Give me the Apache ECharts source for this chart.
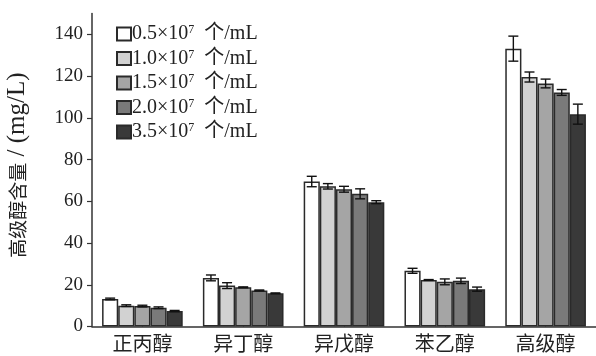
<!DOCTYPE html>
<html><head><meta charset="utf-8">
<script src="https://cdn.jsdelivr.net/npm/echarts@6/dist/echarts.min.js"></script>
<style>html,body{margin:0;padding:0;background:#fff}#c{width:596px;height:356px}</style>
</head><body><div id="c"></div>
<script>
const categories = ['正丙醇','异丁醇','异戊醇','苯乙醇','高级醇'];
const concentrations = ['0.5','1.0','1.5','2.0','3.5'];
const s1 = [13.2, 23.3, 69.5, 26.7, 133.2];
const s2 = [10.0, 19.6, 67.2, 22.3, 119.6];
const s3 = [9.8, 18.8, 65.8, 21.4, 116.5];
const s4 = [9.0, 17.3, 63.6, 21.9, 112.2];
const s5 = [7.4, 15.9, 59.6, 17.9, 101.8];
const e1 = [0.4, 1.4, 2.5, 1.2, 6.0];
const e2 = [0.4, 1.4, 1.3, 0.2, 2.4];
const e3 = [0.4, 0.2, 1.4, 1.4, 2.1];
const e4 = [0.4, 0.2, 2.4, 1.3, 1.4];
const e5 = [0.3, 0.2, 0.7, 1.0, 4.8];
const yTicks = [0, 20, 40, 60, 80, 100, 120, 140];
const colors = ['#ffffff', '#d2d2d2', '#a5a5a5', '#7a7a7a', '#393939'];

const values = [s1, s2, s3, s4, s5];
const errors = [e1, e2, e3, e4, e5];
const names = concentrations.map(c => c + '×10^7 个/mL');
const serif = "'Liberation Serif','Noto Sans CJK SC',serif";

const series = [];
values.forEach((vals, i) => {
  series.push({
    type: 'bar', name: names[i], data: vals,
    barGap: '0%', barCategoryGap: '20%',
    itemStyle: { color: colors[i], borderColor: '#2a2a2a', borderWidth: 1.5 },
    z: 2
  });
});
values.forEach((vals, i) => {
  series.push({
    type: 'custom', name: 'err' + i,
    data: vals.map((v, k) => [k, v, errors[i][k]]),
    encode: { x: 0, y: 1 },
    z: 5, silent: true,
    renderItem: function (params, api) {
      const ci = api.value(0), v = api.value(1), e = api.value(2);
      const catW = api.size([1, 0])[0];
      const bw = catW * 0.8 / 5;
      const x = api.coord([ci, 0])[0] + (i - 2) * bw;
      const yt = api.coord([ci, v + e])[1];
      const yb = api.coord([ci, v - e])[1];
      const cap = 5;
      const st = { stroke: '#111', lineWidth: 1.4 };
      return { type: 'group', children: [
        { type: 'line', shape: { x1: x, y1: yt, x2: x, y2: yb }, style: st },
        { type: 'line', shape: { x1: x - cap, y1: yt, x2: x + cap, y2: yt }, style: st },
        { type: 'line', shape: { x1: x - cap, y1: yb, x2: x + cap, y2: yb }, style: st }
      ]};
    }
  });
});

const chart = echarts.init(document.getElementById('c'), null, { renderer: 'canvas' });
chart.setOption({
  animation: false,
  backgroundColor: '#fff',
  grid: { left: 92, right: 0, top: 13.6, bottom: 29.5, containLabel: false, outerBoundsMode: 'none' },
  legend: {
    data: names, orient: 'vertical', left: 116, top: 24, padding: 0,
    itemWidth: 14, itemHeight: 13, itemGap: 4.5, icon: 'rect',
    formatter: function (n) {
      const p = n.split('^7');
      return '{a|' + p[0] + '}{s|7}{b|' + p[1].replace(' ', '  ') + '}';
    },
    textStyle: {
      color: '#222', fontFamily: serif, fontSize: 20, padding: [0, 0, 0, -4],
      rich: {
        a: { fontFamily: serif, fontSize: 20, color: '#222', lineHeight: 20, verticalAlign: 'middle' },
        s: { fontFamily: serif, fontSize: 12, color: '#222', verticalAlign: 'top', lineHeight: 12 },
        b: { fontFamily: serif, fontSize: 20, color: '#222', lineHeight: 20, verticalAlign: 'middle' }
      }
    }
  },
  xAxis: {
    type: 'category', data: categories,
    axisLine: { lineStyle: { color: '#333', width: 1.5 } },
    axisTick: { show: true, alignWithLabel: true, inside: true, length: 5, lineStyle: { color: '#333', width: 1.2 } },
    axisLabel: { color: '#222', fontSize: 20, fontFamily: "'Noto Sans CJK SC',serif", margin: 7 }
  },
  yAxis: {
    type: 'value', min: 0, max: 150,
    name: '{c|高级醇含量}{l| / (mg/L)}', nameLocation: 'middle', nameGap: 62, nameRotate: 90,
    nameTextStyle: {
      color: '#222', fontSize: 19, fontFamily: serif, padding: [0, 0, 0, 10],
      rich: {
        c: { fontSize: 19, fontFamily: "'Noto Sans CJK SC',serif", color: '#222' },
        l: { fontSize: 25, fontFamily: serif, color: '#222' }
      }
    },
    splitLine: { show: false },
    axisLine: { show: true, lineStyle: { color: '#333', width: 1.5 } },
    axisTick: { show: true, length: 5, customValues: yTicks, lineStyle: { color: '#333', width: 1.2 } },
    axisLabel: { color: '#222', fontSize: 19, fontFamily: serif, margin: 9, customValues: yTicks }
  },
  series: series
});
</script></body></html>
